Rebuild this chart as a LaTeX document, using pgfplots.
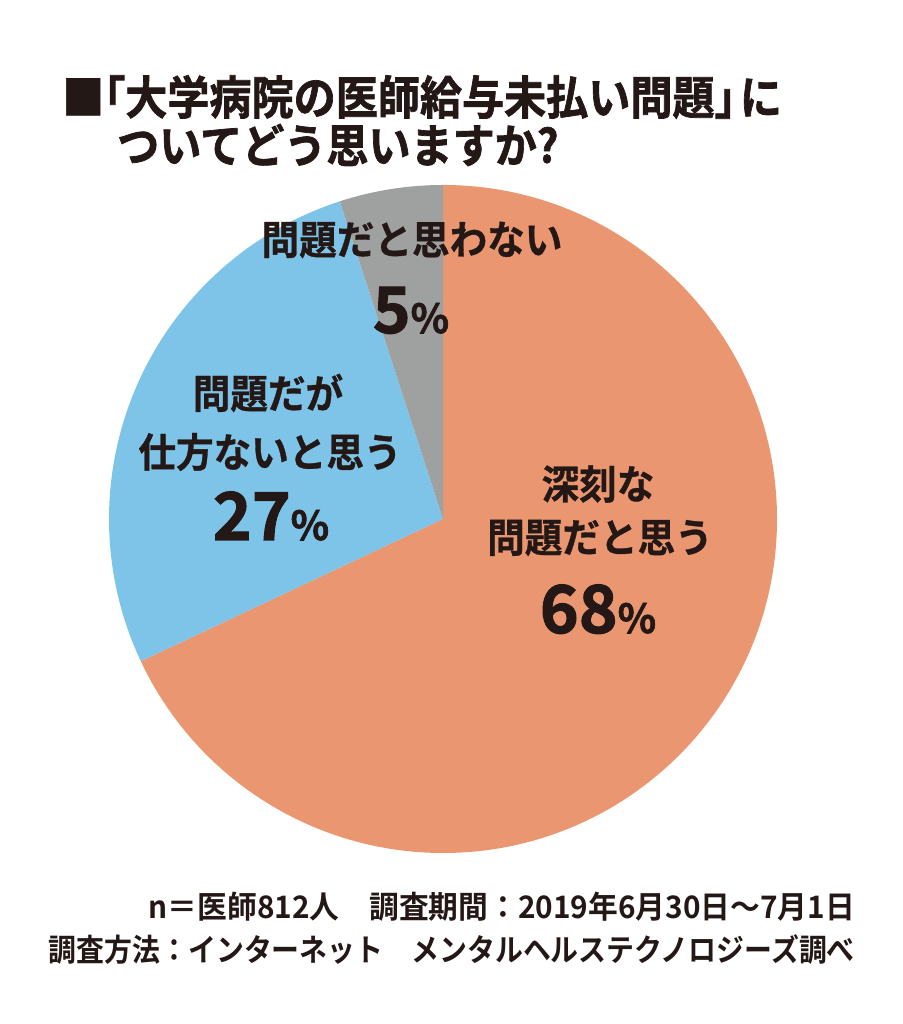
\documentclass[border=0pt]{standalone}
\usepackage{fontspec}
\usepackage{graphicx}
\usepackage{pgfplots}
\usepackage{pgfplotstable}
\pgfplotsset{compat=1.18}
\setmainfont{Noto Sans CJK JP}[UprightFont=* Bold]
\newfontfamily\heavy{Noto Sans CJK JP}[UprightFont=* Bold, FakeBold=1.6]
\newfontfamily\semiheavy{Noto Sans CJK JP}[UprightFont=* Bold, FakeBold=0.8]
\definecolor{pieorange}{HTML}{E99671}
\definecolor{pieblue}{HTML}{7EC4E8}
\definecolor{piegray}{HTML}{9FA0A0}
\definecolor{ink}{HTML}{231815}

\pgfplotstableread{
label value
serious 68
unavoidable 27
notproblem 5
}\piedata

\begin{document}
\begin{tikzpicture}[x=1pt,y=1pt]
\path[use as bounding box] (0,0) rectangle (902,1024);
\pgfplotstablegetelem{0}{value}\of\piedata \let\vA\pgfplotsretval
\pgfplotstablegetelem{1}{value}\of\piedata \let\vB\pgfplotsretval
\pgfplotstablegetelem{2}{value}\of\piedata \let\vC\pgfplotsretval
\pgfmathsetmacro\aA{90}
\pgfmathsetmacro\aB{\aA-3.6*\vA}
\pgfmathsetmacro\aC{\aB-3.6*\vB}
\pgfmathsetmacro\aD{\aC-3.6*\vC}
\begin{axis}[
  at={(443pt,505pt)}, anchor=center,
  scale only axis, width=668pt, height=668pt,
  xmin=-1, xmax=1, ymin=-1, ymax=1,
  hide axis, clip=false]
\fill[pieorange] (axis cs:0,0) -- (axis cs:{cos(\aA)},{sin(\aA)}) arc[start angle=\aA, end angle=\aB, radius=1] -- cycle;
\fill[pieblue] (axis cs:0,0) -- (axis cs:{cos(\aB)},{sin(\aB)}) arc[start angle=\aB, end angle=\aC, radius=1] -- cycle;
\fill[piegray] (axis cs:0,0) -- (axis cs:{cos(\aC)},{sin(\aC)}) arc[start angle=\aC, end angle=\aD, radius=1] -- cycle;
\end{axis}

% title
\node[anchor=west, inner sep=0, text=ink] at (62,927) {\heavy\fontsize{46}{46}\selectfont\scalebox{0.915}[1]{■\kern-0.5em「大学病院の医師給与未払い問題」\kern-0.4emに}};
\node[anchor=west, inner sep=0, text=ink] at (117,879) {\heavy\fontsize{46}{46}\selectfont\scalebox{0.915}[1]{ついてどう思いますか?}};

% labels
\node[inner sep=0, text=ink] at (412,784) {\semiheavy\fontsize{40}{40}\selectfont\scalebox{0.94}[1]{問題だと思わない}};
\node[anchor=base, inner sep=0, text=ink] at (411,691) {\heavy\fontsize{64}{64}\selectfont 5\fontsize{40}{40}\selectfont\%};

\node[inner sep=0, text=ink] at (268,631) {\semiheavy\fontsize{40}{40}\selectfont\scalebox{0.94}[1]{問題だが}};
\node[inner sep=0, text=ink] at (270,572) {\semiheavy\fontsize{40}{40}\selectfont\scalebox{0.94}[1]{仕方ないと思う}};
\node[anchor=base, inner sep=0, text=ink] at (271,484) {\heavy\fontsize{66}{66}\selectfont 27\fontsize{40}{40}\selectfont\%};

\node[inner sep=0, text=ink] at (598,540) {\semiheavy\fontsize{40}{40}\selectfont\scalebox{0.94}[1]{深刻な}};
\node[inner sep=0, text=ink] at (600,486) {\semiheavy\fontsize{40}{40}\selectfont\scalebox{0.94}[1]{問題だと思う}};
\node[anchor=base, inner sep=0, text=ink] at (598,391) {\heavy\fontsize{66}{66}\selectfont 68\fontsize{40}{40}\selectfont\%};

% footer
\node[anchor=east, inner sep=0, text=ink] at (855,117) {\fontsize{31}{31}\selectfont\scalebox{0.96}[1]{n＝医師812人　調査期間：2019年6月30日～7月1日}};
\node[anchor=east, inner sep=0, text=ink] at (855,74) {\fontsize{31}{31}\selectfont\scalebox{0.9}[1]{調査方法：インターネット　メンタルヘルステクノロジーズ調べ}};
\end{tikzpicture}
\end{document}
